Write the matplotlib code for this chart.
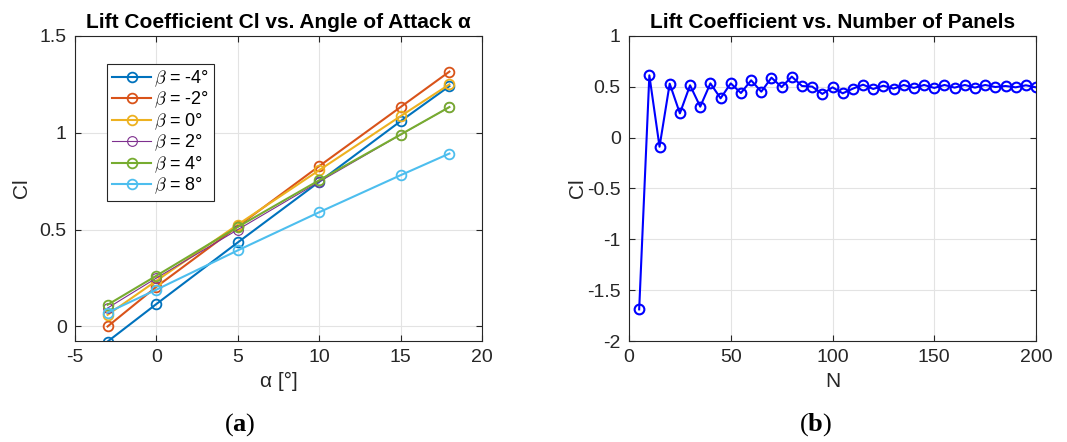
import numpy as np
import matplotlib
matplotlib.use('Agg')
import matplotlib.pyplot as plt
from matplotlib.font_manager import FontProperties

plt.rcParams['font.family'] = ['Liberation Sans', 'DejaVu Sans']
plt.rcParams['axes.unicode_minus'] = False
plt.rcParams['mathtext.fontset'] = 'custom'
plt.rcParams['mathtext.rm'] = 'Liberation Serif'
plt.rcParams['mathtext.bf'] = 'Liberation Serif:bold'

# (a) lift coefficient vs angle of attack
alpha = [-3, 0, 5, 10, 15, 18]
beta_labels = [r'$\beta$ = -4°', r'$\beta$ = -2°', r'$\beta$ = 0°',
               r'$\beta$ = 2°', r'$\beta$ = 4°', r'$\beta$ = 8°']
cl_beta_m4 = [-0.078, 0.116, 0.434, 0.747, 1.060, 1.241]
cl_beta_m2 = [0.000, 0.205, 0.517, 0.828, 1.133, 1.316]
cl_beta_0 = [0.060, 0.236, 0.526, 0.807, 1.086, 1.250]
cl_beta_2 = [0.095, 0.250, 0.500, 0.747, 0.990, 1.133]
cl_beta_4 = [0.112, 0.262, 0.514, 0.755, 0.991, 1.133]
cl_beta_8 = [0.072, 0.190, 0.393, 0.590, 0.781, 0.893]

# (b) lift coefficient vs number of panels
n_panels = list(range(5, 201, 5))
cl_panels = [-1.689, 0.613, -0.089, 0.531, 0.239, 0.515, 0.305, 0.534, 0.387, 0.534,
             0.439, 0.564, 0.452, 0.590, 0.498, 0.600, 0.508, 0.502, 0.430, 0.495,
             0.436, 0.482, 0.521, 0.479, 0.511, 0.482, 0.518, 0.489, 0.518, 0.489,
             0.518, 0.492, 0.518, 0.492, 0.518, 0.498, 0.508, 0.495, 0.515, 0.495]

colors = ['#0072BD', '#D95319', '#EDB120', '#7E2F8E', '#77AC30', '#4DBEEE']
txt = '#262626'


def style_axes(ax):
    for s in ax.spines.values():
        s.set_color(txt)
        s.set_linewidth(0.8)
    ax.tick_params(direction='in', top=True, right=True, colors=txt,
                   labelsize=14, length=4, width=0.8, pad=6)
    ax.grid(True, color='#e3e3e3', linewidth=0.8)
    ax.set_axisbelow(True)


fig = plt.figure(figsize=(10.67, 4.42), dpi=100)
ax1 = fig.add_axes([0.0703, 0.2285, 0.3814, 0.6901])
ax2 = fig.add_axes([0.5895, 0.2285, 0.3815, 0.6901])

series = [cl_beta_m4, cl_beta_m2, cl_beta_0, cl_beta_2, cl_beta_4, cl_beta_8]
for vals, lab, c in zip(series, beta_labels, colors):
    lw = 0.8 if lab == beta_labels[3] else 1.5
    ax1.plot(alpha, vals, '-o', color=c, lw=lw, mfc='none', mec=c,
             ms=7, mew=1.3 if lw > 1 else 0.8, label=lab)

ax1.set_xlim(-5, 20)
ax1.set_ylim(-0.075, 1.5)
ax1.set_xticks([-5, 0, 5, 10, 15, 20])
ax1.set_yticks([0, 0.5, 1, 1.5])
ax1.set_yticklabels(['0', '0.5', '1', '1.5'])
ax1.set_xlabel('α [°]', fontsize=15, color=txt, labelpad=4)
ax1.set_ylabel('Cl', fontsize=15, color=txt, labelpad=6)
ax1.set_title('Lift Coefficient Cl vs. Angle of Attack α', fontsize=15,
              fontweight='bold', color='black', pad=6)
style_axes(ax1)
leg_font = FontProperties(family='Liberation Sans', size=13, math_fontfamily='cm')
leg = ax1.legend(loc='upper left', bbox_to_anchor=(0.079, 0.908),
                 borderaxespad=0, prop=leg_font, fancybox=False, framealpha=1,
                 edgecolor=txt, handlelength=2.2, handletextpad=0.15,
                 labelspacing=0.05, borderpad=0.25)
leg.get_frame().set_linewidth(0.8)

ax2.plot(n_panels, cl_panels, '-o', color='b', lw=1.5, mfc='none', mec='b',
         ms=7, mew=1.5)
ax2.set_xlim(0, 200)
ax2.set_ylim(-2, 1)
ax2.set_xticks([0, 50, 100, 150, 200])
ax2.set_yticks([-2, -1.5, -1, -0.5, 0, 0.5, 1])
ax2.set_yticklabels(['-2', '-1.5', '-1', '-0.5', '0', '0.5', '1'])
ax2.set_xlabel('N', fontsize=15, color=txt, labelpad=4)
ax2.set_ylabel('Cl', fontsize=15, color=txt, labelpad=0)
ax2.set_title('Lift Coefficient vs. Number of Panels', fontsize=15,
              fontweight='bold', color='black', pad=6)
style_axes(ax2)

fig.text(0.2245, 0.025, r'$\mathrm{(}\mathbf{a}\mathrm{)}$', fontsize=19,
         ha='center', math_fontfamily='custom')
fig.text(0.7645, 0.025, r'$\mathrm{(}\mathbf{b}\mathrm{)}$', fontsize=19,
         ha='center', math_fontfamily='custom')

fig.savefig('out.png', dpi=100)
